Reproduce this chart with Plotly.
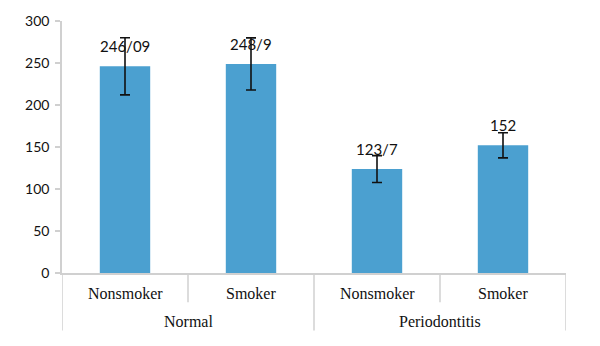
import plotly.graph_objects as go

groups = ["Normal", "Normal", "Periodontitis", "Periodontitis"]
subcats = ["Nonsmoker", "Smoker", "Nonsmoker", "Smoker"]
values = [246.09, 248.9, 123.7, 152]
errors = [34, 31, 16, 15]
labels = ["246/09", "248/9", "123/7", "152"]
yticks = [0, 50, 100, 150, 200, 250, 300]

W, H = 600, 346
ml, mr, mt, mb = 62, 34, 14, 73
ph = H - mt - mb
px = lambda p: p / ph  # pixels -> paper fraction (y)

xs = list(range(len(values)))
fig = go.Figure()
fig.add_trace(go.Bar(
    x=xs, y=values, width=0.4,
    marker=dict(color="#4BA0D0", line=dict(width=0)),
    error_y=dict(type="data", array=errors, visible=True, color="#111111",
                 thickness=1.6, width=5),
    hoverinfo="skip",
))

# value labels above bars
for i, (v, t) in enumerate(zip(values, labels)):
    fig.add_annotation(x=i, y=v, yref="y", text=t, showarrow=False,
                       xanchor="center", yanchor="middle", yshift=20,
                       font=dict(family="Lato, Open Sans, sans-serif", size=15, color="#111111"))

# subcategory labels
for i, s in enumerate(subcats):
    fig.add_annotation(x=i, y=-px(21.5), yref="paper", text=s, showarrow=False,
                       xanchor="center", yanchor="middle",
                       font=dict(family="Liberation Serif, Times New Roman, serif", size=16, color="#111111"))

# group labels
uniq = []
for i, g in enumerate(groups):
    if not uniq or uniq[-1][0] != g:
        uniq.append([g, i, i])
    else:
        uniq[-1][2] = i
for g, a, b in uniq:
    fig.add_annotation(x=(a + b) / 2, y=-px(49.5), yref="paper", text=g, showarrow=False,
                       xanchor="center", yanchor="middle",
                       font=dict(family="Liberation Serif, Times New Roman, serif", size=16, color="#111111"))

# dividers
divcol = "#D0D0D0"
for i in range(len(values) + 1):
    xpos = i - 0.5
    is_group = i == 0 or i == len(values) or groups[i] != groups[i - 1]
    depth = 59 if is_group else 30
    fig.add_shape(type="line", xref="x", yref="paper", x0=xpos, x1=xpos,
                  y0=0, y1=-px(depth), line=dict(color=divcol, width=1.5))

fig.update_layout(
    width=W, height=H,
    margin=dict(l=ml, r=mr, t=mt, b=mb),
    plot_bgcolor="white", paper_bgcolor="white",
    showlegend=False,
    xaxis=dict(range=[-0.5, len(values) - 0.5], showticklabels=False, ticks="",
               showgrid=False, zeroline=False, showline=True, linecolor=divcol, linewidth=1.5),
    yaxis=dict(range=[0, 300], tickvals=yticks, showgrid=False, zeroline=False,
               showline=True, linecolor=divcol, linewidth=1.5,
               ticks="outside", ticklen=5, tickcolor=divcol, tickwidth=1.5,
               ticklabelstandoff=3,
               tickfont=dict(family="Lato, Open Sans, sans-serif", size=14, color="#111111")),
)
fig.write_html("out.html")
